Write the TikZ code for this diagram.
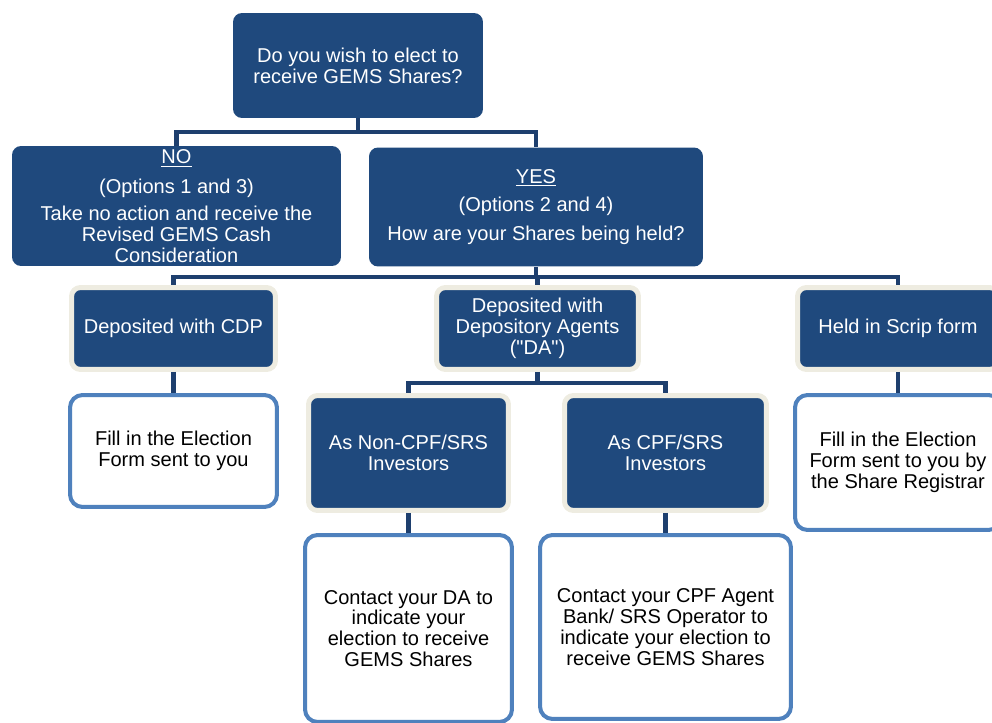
\documentclass[tikz,border=0pt]{standalone}
\usepackage{fontspec}
\setmainfont{Liberation Sans}[Ligatures=TeXOff]
\definecolor{navy}{HTML}{1F497D}
\definecolor{linkblue}{HTML}{1E3F6E}
\definecolor{cream}{HTML}{EEECE1}
\definecolor{paleblue}{HTML}{4F81BD}

\begin{document}
\begin{tikzpicture}[x=0.02cm,y=-0.02cm]
\tikzset{darkbox/.style = {shape=rectangle,rounded corners=0.18cm,fill=navy,text=white,align=center,inner sep=0pt,font=\fontsize{11.4}{11.9}\selectfont}}
\tikzset{heldbox/.style = {darkbox,draw=cream,line width=0.1cm}}
\tikzset{actbox/.style = {shape=rectangle,rounded corners=0.25cm,draw=paleblue,line width=0.08cm,fill=white,align=center,inner sep=0pt,font=\fontsize{11.4}{11.9}\selectfont}}
\tikzset{link/.style = {draw=linkblue,line width=0.09cm}}
\clip (0,0) rectangle (992,723);
% questions
\node[darkbox,minimum width=5cm,minimum height=2.1cm] (q) at (358,65.5) {Do you wish to elect to\\receive GEMS Shares?};
\node[darkbox,minimum width=6.58cm,minimum height=2.4cm] (no) at (176.5,206) {\underline{NO}\\[5pt](Options 1 and 3)\\[3.4pt]Take no action and receive the\\Revised GEMS Cash\\Consideration};
\node[darkbox,minimum width=6.68cm,minimum height=2.38cm] (yes) at (536,207) {\underline{YES}\\[4.5pt](Options 2 and 4)\\[4.5pt]How are your Shares being held?};
% holdings
\node[heldbox,minimum width=4.08cm,minimum height=1.64cm] (cdp) at (173.5,328.5) {Deposited with CDP};
\node[heldbox,minimum width=4.04cm,minimum height=1.64cm] (da) at (537.5,328.5) {Deposited with\\Depository Agents\\("DA")};
\node[heldbox,minimum width=4.02cm,minimum height=1.64cm] (scrip) at (898,328.5) {Held in Scrip form};
\node[heldbox,minimum width=4cm,minimum height=2.3cm] (ncpf) at (408.5,453) {As Non-CPF/SRS\\Investors};
\node[heldbox,minimum width=4.04cm,minimum height=2.3cm] (cpf) at (665.5,453) {As CPF/SRS\\Investors};
% actions
\node[actbox,minimum width=4.14cm,minimum height=2.24cm] (cdpact) at (173.5,451) {Fill in the Election\\Form sent to you};
\node[actbox,minimum width=4.12cm,minimum height=2.7cm] (scripact) at (898,462.5) {Fill in the Election\\Form sent to you by\\the Share Registrar};
\node[actbox,minimum width=4.14cm,minimum height=3.74cm] (ncpfact) at (408.5,628.5) {Contact your DA to\\indicate your\\election to receive\\GEMS Shares};
\node[actbox,minimum width=5.02cm,minimum height=3.68cm] (cpfact) at (665.5,627) {Contact your CPF Agent\\Bank/ SRS Operator to\\indicate your election to\\receive GEMS Shares};
% links
\coordinate (j1) at (358,132);
\coordinate (j2) at (536,277);
\coordinate (j3) at (537.5,383);
\draw[link] (q) -- (j1) -| (no);
\draw[link] (j1) -| (yes);
\draw[link] (yes) -- (j2) -| (cdp);
\draw[link] (j2) -| (da);
\draw[link] (j2) -| (scrip);
\draw[link] (da) -- (j3) -| (ncpf);
\draw[link] (j3) -| (cpf);
\draw[link] (cdp) -- (cdpact);
\draw[link] (scrip) -- (scripact);
\draw[link] (ncpf) -- (ncpfact);
\draw[link] (cpf) -- (cpfact);
\end{tikzpicture}
\end{document}
